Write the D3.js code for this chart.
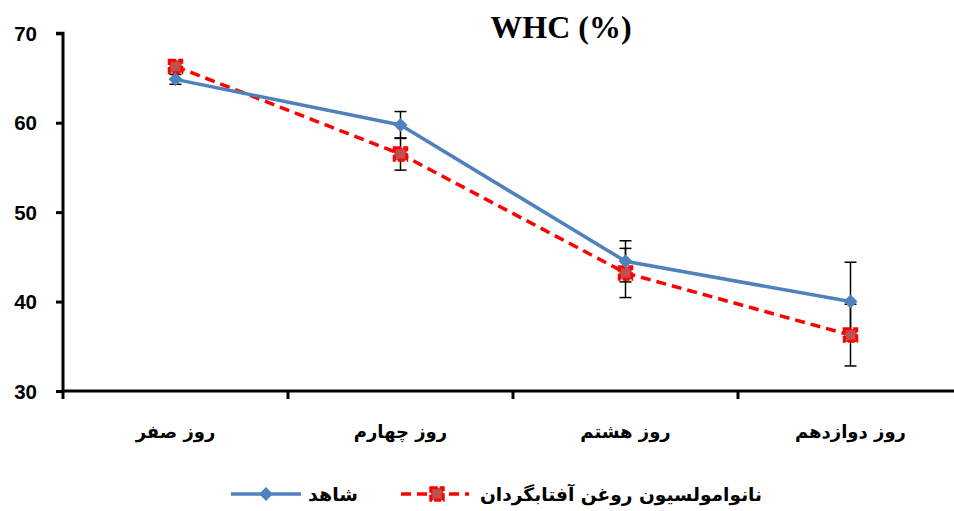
<!DOCTYPE html>
<html><head><meta charset="utf-8">
<script src="https://cdn.jsdelivr.net/npm/d3@7"></script>
<style>body{margin:0;background:#fff;}svg{display:block;}</style>
</head><body>
<svg id="c" width="954" height="511"></svg>
<script>
const categories = ["روز صفر", "روز چهارم", "روز هشتم", "روز دوازدهم"];
const controlValues = [64.85, 59.75, 44.5, 40.0];
const controlErrors = [0.55, 1.5, 2.3, 4.4];
const nanoValues = [66.3, 56.5, 43.2, 36.25];
const nanoErrors = [0.5, 1.8, 2.75, 3.45];
const yTicks = [30, 40, 50, 60, 70];
const seriesNames = ["شاهد", "نانوامولسیون روغن آفتابگردان"];
const titleText = "WHC (%)";

const svg = d3.select("#c");
const x = d3.scaleBand().domain(categories).range([63, 963]);
const y = d3.scaleLinear().domain([30, 70]).range([391, 33.3]);

// title
svg.append("text").attr("x", 561).attr("y", 38).attr("text-anchor", "middle")
  .attr("font-family", "Liberation Serif").attr("font-weight", "bold").attr("font-size", 32)
  .text(titleText);

// y axis
const ya = svg.append("g").attr("transform", "translate(63,0)")
  .call(d3.axisLeft(y).tickValues(yTicks).tickSize(7).tickPadding(19).tickFormat(d3.format("d")));
ya.select(".domain").attr("stroke-width", 3).attr("d", `M-7,${y(70)}H0V${y(30)}`);
ya.selectAll(".tick line").attr("stroke-width", 3);
ya.selectAll(".tick text").attr("font-family", "Liberation Sans").attr("font-weight", "bold")
  .attr("font-size", 20.5).attr("fill", "#000").attr("dy", "0.35em");

// x axis
const xa = svg.append("g").attr("transform", `translate(0,${y(30)})`)
  .call(d3.axisBottom(x).tickSize(0).tickPadding(0).tickFormat(""));
xa.select(".domain").attr("stroke-width", 3).attr("d", `M63,0H963`);
xa.selectAll(".tick").remove();
const bounds = categories.map(c => x(c)).concat([x(categories[3]) + x.bandwidth()]);
xa.selectAll("line.bt").data(bounds).join("line").attr("class", "bt")
  .attr("x1", d => d).attr("x2", d => d).attr("y1", 0).attr("y2", 8)
  .attr("stroke", "#000").attr("stroke-width", 3);
xa.selectAll("text.cl").data(categories).join("text").attr("class", "cl")
  .attr("x", d => x(d) + x.bandwidth() / 2).attr("y", 47)
  .attr("text-anchor", "middle").attr("font-family", "DejaVu Sans").attr("font-weight", "bold")
  .attr("font-size", 18).attr("fill", "#000").text(d => d);

const cx = d => x(d) + x.bandwidth() / 2;
const blue = "#4F81BD", red = "#FF0000", redFill = "#C0504D";

function errBars(vals, errs) {
  const g = svg.append("g");
  categories.forEach((c, i) => {
    const xx = cx(c), top = y(vals[i] + errs[i]), bot = y(vals[i] - errs[i]);
    g.append("line").attr("x1", xx).attr("x2", xx).attr("y1", top).attr("y2", bot)
      .attr("stroke", "#000").attr("stroke-width", 1.5);
    [top, bot].forEach(yy => g.append("line").attr("x1", xx - 6).attr("x2", xx + 6)
      .attr("y1", yy).attr("y2", yy).attr("stroke", "#000").attr("stroke-width", 1.5));
  });
}
errBars(controlValues, controlErrors);
errBars(nanoValues, nanoErrors);

const line = d3.line().x((d, i) => cx(categories[i])).y(d => y(d));
svg.append("path").datum(nanoValues).attr("d", line).attr("fill", "none")
  .attr("stroke", red).attr("stroke-width", 3.5).attr("stroke-dasharray", "10,6");
svg.append("path").datum(controlValues).attr("d", line).attr("fill", "none")
  .attr("stroke", blue).attr("stroke-width", 3.5);

const sq = d3.symbol().type(d3.symbolSquare).size(156);
const dm = "M0,-7L7,0L0,7L-7,0Z";
svg.append("g").selectAll("path").data(nanoValues).join("path")
  .attr("d", sq).attr("transform", (d, i) => `translate(${cx(categories[i])},${y(d)})`)
  .attr("fill", redFill).attr("stroke", red).attr("stroke-width", 3).attr("stroke-dasharray", "7,2");
svg.append("g").selectAll("path").data(controlValues).join("path")
  .attr("d", dm).attr("transform", (d, i) => `translate(${cx(categories[i])},${y(d)})`)
  .attr("fill", blue);

// legend
const lg = svg.append("g");
const ly = 494;
lg.append("line").attr("x1", 231).attr("x2", 301).attr("y1", ly).attr("y2", ly)
  .attr("stroke", blue).attr("stroke-width", 3.5);
lg.append("path").attr("d", dm).attr("transform", `translate(266,${ly})`).attr("fill", blue);
lg.append("text").attr("x", 308).attr("y", ly).attr("dy", "0.35em")
  .attr("font-family", "DejaVu Sans").attr("font-weight", "bold").attr("font-size", 19).text(seriesNames[0]);
lg.append("line").attr("x1", 401).attr("x2", 469).attr("y1", ly).attr("y2", ly)
  .attr("stroke", red).attr("stroke-width", 3.5).attr("stroke-dasharray", "10,6");
lg.append("path").attr("d", sq).attr("transform", `translate(437,${ly})`)
  .attr("fill", redFill).attr("stroke", red).attr("stroke-width", 3).attr("stroke-dasharray", "7,2");
lg.append("text").attr("x", 480).attr("y", ly).attr("dy", "0.35em")
  .attr("font-family", "DejaVu Sans").attr("font-weight", "bold").attr("font-size", 18.6).text(seriesNames[1]);
</script>
</body></html>
